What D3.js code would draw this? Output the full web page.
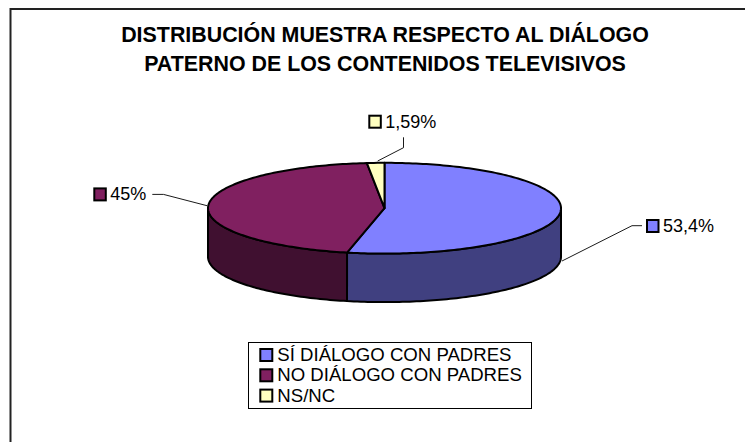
<!DOCTYPE html>
<html lang="es">
<head>
<meta charset="utf-8">
<title>Diálogo paterno</title>
<script src="https://cdn.jsdelivr.net/npm/d3@7/dist/d3.min.js"></script>
<style>
  html, body { margin: 0; padding: 0; background: #fff; }
  svg { display: block; }
  text { font-family: "Liberation Sans", Arial, sans-serif; fill: #000; }
</style>
</head>
<body>
<svg id="chart" width="745" height="442"></svg>
<script>
const categories = ["SÍ DIÁLOGO CON PADRES", "NO DIÁLOGO CON PADRES", "NS/NC"];
const values = [53.4, 45, 1.59];
const valueLabels = ["53,4%", "45%", "1,59%"];
const topColors = ["#8080ff", "#802060", "#ffffc0"];
const sideColors = ["#404080", "#401030", "#808060"];
const titleLines = [
  "DISTRIBUCIÓN MUESTRA RESPECTO AL DIÁLOGO",
  "PATERNO DE LOS CONTENIDOS TELEVISIVOS"
];

const svg = d3.select("#chart");
const line = d3.line();

// Frame: only the top and left edges fall inside the page
svg.append("path")
  .attr("d", line([[10.5, 442], [10.5, 9], [745, 9]]))
  .attr("fill", "none").attr("stroke", "#222").attr("stroke-width", 2);

// Title
svg.append("g").selectAll("text").data(titleLines).join("text")
  .attr("x", 385)
  .attr("y", (d, i) => 42 + i * 29)
  .attr("text-anchor", "middle")
  .attr("font-size", 21.4)
  .attr("font-weight", "bold")
  .text(d => d);

// Tilted pie geometry
const cx = 384.5, cy = 208.2, rx = 176.5, ry = 45.4, depth = 48.5;
const px = a => cx + rx * Math.sin(a);
const py = (a, dy = 0) => cy - ry * Math.cos(a) + dy;

const slices = d3.pie().sort(null)(values);

const sampleAngles = (a0, a1) => {
  const n = Math.max(2, Math.ceil((a1 - a0) / 0.02));
  return d3.range(n + 1).map(i => a0 + (a1 - a0) * i / n);
};

// Side walls: only the part of each slice on the near half of the rim
const wall = svg.append("g");
slices.forEach((s, i) => {
  const a0 = Math.max(s.startAngle, Math.PI / 2);
  const a1 = Math.min(s.endAngle, 3 * Math.PI / 2);
  if (a1 <= a0) return;
  const angles = sampleAngles(a0, a1);
  const pts = angles.map(a => [px(a), py(a)])
    .concat(angles.slice().reverse().map(a => [px(a), py(a, depth)]));
  wall.append("path")
    .attr("d", line(pts) + "Z")
    .attr("fill", sideColors[i])
    .attr("stroke", "#000").attr("stroke-width", 2)
    .attr("stroke-linejoin", "round");
});

// Top faces
svg.append("g").selectAll("path").data(slices).join("path")
  .attr("d", s => line([[cx, cy], ...sampleAngles(s.startAngle, s.endAngle).map(a => [px(a), py(a)])]) + "Z")
  .attr("fill", (s, i) => topColors[i])
  .attr("stroke", "#000").attr("stroke-width", 2)
  .attr("stroke-linejoin", "round");

// Leader lines
const leaders = [
  [[562, 261], [632, 225.7], [642, 225.7]],
  [[207, 205.7], [163.5, 194.4], [152.3, 194.4]],
  [[377.7, 161], [403.5, 147.7], [403.5, 137.3]]
];
svg.append("g").selectAll("path").data(leaders).join("path")
  .attr("d", d => line(d))
  .attr("fill", "none").attr("stroke", "#000").attr("stroke-width", 0.9);

// Data labels with their colour key
const labelPos = [[647, 226], [94.3, 194.4], [369.3, 121.7]];
const labels = svg.append("g").selectAll("g").data(valueLabels).join("g")
  .attr("transform", (d, i) => `translate(${labelPos[i][0]},${labelPos[i][1]})`);
labels.append("rect")
  .attr("x", 0).attr("y", -6).attr("width", 11.5).attr("height", 12)
  .attr("fill", (d, i) => topColors[i])
  .attr("stroke", "#000").attr("stroke-width", 2);
labels.append("text")
  .attr("x", 16).attr("y", 6)
  .attr("font-size", 18)
  .text(d => d);

// Legend
svg.append("rect")
  .attr("x", 248.5).attr("y", 342.5)
  .attr("width", 283).attr("height", 66)
  .attr("fill", "#fff").attr("stroke", "#000").attr("stroke-width", 1);
const legendRows = svg.append("g").selectAll("g").data(categories).join("g")
  .attr("transform", (d, i) => `translate(260.3,${355 + i * 20.3})`);
legendRows.append("rect")
  .attr("x", 0).attr("y", -6).attr("width", 12).attr("height", 12)
  .attr("fill", (d, i) => topColors[i])
  .attr("stroke", "#000").attr("stroke-width", 2);
legendRows.append("text")
  .attr("x", 17).attr("y", 6)
  .attr("font-size", 18.6)
  .text(d => d);
</script>
</body>
</html>
